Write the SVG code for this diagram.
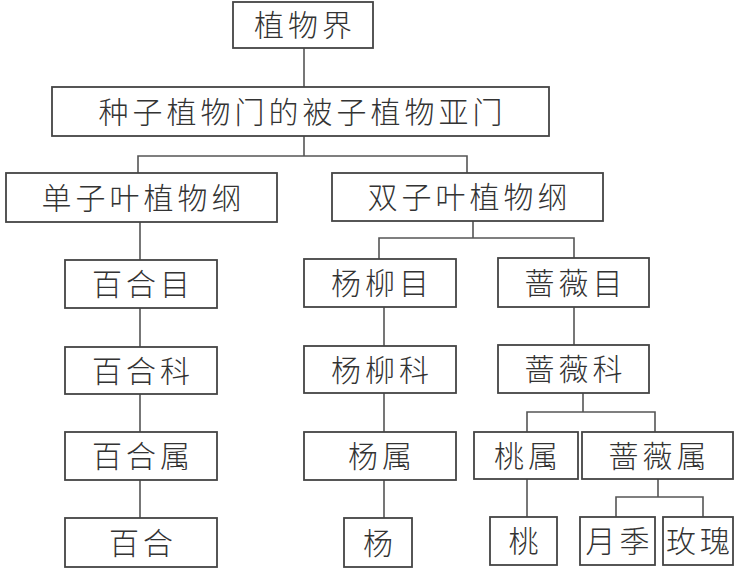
<svg xmlns="http://www.w3.org/2000/svg" width="740" height="570" viewBox="0 0 740 570">
<style>
.box{fill:#fff;stroke:#444;stroke-width:1.8}
.lbl{font-family:"Noto Sans CJK SC","Noto Sans CJK TC",sans-serif;font-size:30px;font-weight:300;fill:#333;text-anchor:middle;letter-spacing:4px}
.conn{fill:none;stroke:#555;stroke-width:1.6}
</style>
<rect x="0" y="0" width="740" height="570" fill="#fff"/>
<g id="connectors" class="conn">
<path d="M304 48V87"/>
<path d="M304 136V156M138 173V156H467V173"/>
<path d="M140 222V260M140 308V347M140 394V432M140 480V518"/>
<path d="M473 221V238M379 259V238H574V258"/>
<path d="M384 307V346M384 393V432M384 480V518"/>
<path d="M574 307V345"/>
<path d="M583 393V412M527 432V412H655V432"/>
<path d="M527 479V517"/>
<path d="M658 479V497M616 517V497H703V517"/>
</g>
<g id="n1"><rect class="box" x="233" y="2" width="140" height="46"/><text class="lbl" x="305" y="36">植物界</text></g>
<g id="n2"><rect class="box" x="52" y="87" width="497" height="49"/><text class="lbl" x="302.5" y="122.5">种子植物门的被子植物亚门</text></g>
<g id="n3"><rect class="box" x="6" y="173" width="271" height="49"/><text class="lbl" x="143.5" y="208.5">单子叶植物纲</text></g>
<g id="n4"><rect class="box" x="332" y="173" width="271" height="48"/><text class="lbl" x="469.5" y="208">双子叶植物纲</text></g>
<g id="n5"><rect class="box" x="65" y="260" width="152" height="48"/><text class="lbl" x="143" y="295">百合目</text></g>
<g id="n6"><rect class="box" x="65" y="347" width="152" height="47"/><text class="lbl" x="143" y="381.5">百合科</text></g>
<g id="n7"><rect class="box" x="65" y="432" width="152" height="48"/><text class="lbl" x="143" y="467">百合属</text></g>
<g id="n8"><rect class="box" x="65" y="518" width="152" height="49"/><text class="lbl" x="143" y="553.5">百合</text></g>
<g id="n9"><rect class="box" x="304" y="259" width="152" height="48"/><text class="lbl" x="382" y="294">杨柳目</text></g>
<g id="n10"><rect class="box" x="304" y="346" width="152" height="47"/><text class="lbl" x="382" y="380.5">杨柳科</text></g>
<g id="n11"><rect class="box" x="304" y="432" width="152" height="48"/><text class="lbl" x="382" y="467">杨属</text></g>
<g id="n12"><rect class="box" x="344" y="518" width="68" height="49"/><text class="lbl" x="380" y="553.5">杨</text></g>
<g id="n13"><rect class="box" x="498" y="258" width="151" height="49"/><text class="lbl" x="575.5" y="293.5">蔷薇目</text></g>
<g id="n14"><rect class="box" x="498" y="345" width="151" height="48"/><text class="lbl" x="575.5" y="380">蔷薇科</text></g>
<g id="n15"><rect class="box" x="474" y="432" width="104" height="47"/><text class="lbl" x="528" y="466.5">桃属</text></g>
<g id="n16"><rect class="box" x="582" y="432" width="151" height="47"/><text class="lbl" x="659.5" y="466.5">蔷薇属</text></g>
<g id="n17"><rect class="box" x="490" y="517" width="67" height="48"/><text class="lbl" x="525.5" y="552">桃</text></g>
<g id="n18"><rect class="box" x="580" y="517" width="75" height="48"/><text class="lbl" x="619.5" y="552">月季</text></g>
<g id="n19"><rect class="box" x="663" y="517" width="70" height="48"/><text class="lbl" x="700" y="552">玫瑰</text></g>
</svg>
